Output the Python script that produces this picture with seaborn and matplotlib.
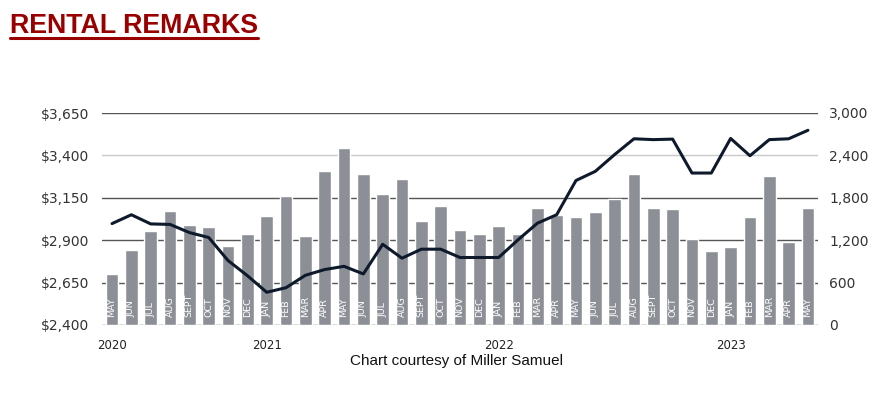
import numpy as np
import pandas as pd
import matplotlib.pyplot as plt
import matplotlib.transforms as mtransforms
from matplotlib.lines import Line2D
import seaborn as sns

sns.set_style("white")
plt.rcParams['font.family'] = ['DejaVu Sans']

# --- data ---
months = ['MAY', 'JUN', 'JUL', 'AUG', 'SEPT', 'OCT', 'NOV', 'DEC',
          'JAN', 'FEB', 'MAR', 'APR', 'MAY', 'JUN', 'JUL', 'AUG', 'SEPT', 'OCT', 'NOV', 'DEC',
          'JAN', 'FEB', 'MAR', 'APR', 'MAY', 'JUN', 'JUL', 'AUG', 'SEPT', 'OCT', 'NOV', 'DEC',
          'JAN', 'FEB', 'MAR', 'APR', 'MAY']
# bars -> right axis
volume = [720, 1065, 1325, 1610, 1410, 1390, 1115, 1285,
          1540, 1830, 1260, 2175, 2505, 2135, 1860, 2065, 1475, 1690, 1350, 1285,
          1405, 1285, 1655, 1560, 1525, 1600, 1790, 2140, 1650, 1635, 1210, 1045,
          1100, 1530, 2105, 1180, 1660]
# line -> left axis
rent = [2998, 3050, 2996, 2993, 2945, 2916, 2780, 2691,
        2593, 2620, 2693, 2727, 2746, 2701, 2876, 2794, 2847, 2847, 2798, 2798,
        2798, 2902, 3000, 3050, 3252, 3306, 3405, 3498, 3493, 3496, 3296, 3296,
        3500, 3398, 3493, 3498, 3548]
year_labels = ['2020', '2021', '2022', '2023']
year_pos = [0, 8, 20, 32]
left_ticks = [2400, 2650, 2900, 3150, 3400, 3650]
right_ticks = [0, 600, 1200, 1800, 2400, 3000]

df = pd.DataFrame({'idx': np.arange(len(months)), 'month': months,
                   'volume': volume, 'rent': rent})

BAR_C = '#8c9096'
LINE_C = '#0e1a2c'
RED = '#990000'

fig = plt.figure(figsize=(8.92, 3.98), dpi=100)
ax_bar = fig.add_axes([102 / 892, 1 - 325 / 398, (818 - 102) / 892, (325 - 113) / 398])

# gridlines (behind the bars)
for v in right_ticks:
    ax_bar.axhline(v, color='#c9c9c9' if v == 2400 else '#555555', lw=1.0, zorder=0)

sns.barplot(data=df, x='idx', y='volume', color=BAR_C, width=0.66,
            saturation=1, ax=ax_bar, zorder=2)
ax_bar.set_ylim(0, 3000)
ax_bar.set_xlim(-0.52, len(months) - 0.48)
ax_bar.set_xticks(np.arange(-0.5, len(months), 1.0))
ax_bar.set_xticklabels([])
ax_bar.tick_params(axis='x', length=4, width=0.8, color='#666666', direction='out')
ax_bar.set_xlabel('')
ax_bar.set_ylabel('')
for s in ax_bar.spines.values():
    s.set_visible(False)

for i, m in enumerate(months):
    ax_bar.text(i, 110, m, rotation=90, ha='center', va='bottom',
                color='white', fontsize=6.8, zorder=3)

# line on the left axis
ax_line = ax_bar.twinx()
sns.lineplot(data=df, x='idx', y='rent', color=LINE_C, lw=2.2, ax=ax_line)
ax_line.set_ylim(2400, 3650)
ax_line.yaxis.tick_left()
ax_line.yaxis.set_label_position('left')
ax_line.set_yticks(left_ticks)
ax_line.set_yticklabels([f'${v:,}' for v in left_ticks])
ax_line.tick_params(axis='y', length=0, pad=9, labelsize=10, labelcolor='#333333')
ax_line.set_xlabel('')
ax_line.set_ylabel('')
for s in ax_line.spines.values():
    s.set_visible(False)

# volume axis on the right (after twinx, which resets it)
ax_bar.yaxis.tick_right()
ax_bar.set_yticks(right_ticks)
ax_bar.set_yticklabels([f'{v:,}' for v in right_ticks])
ax_bar.tick_params(axis='y', length=0, pad=8, labelsize=10, labelcolor='#333333')

# year labels under the x axis
trans = mtransforms.blended_transform_factory(ax_bar.transData, ax_bar.transAxes)
for lab, p in zip(year_labels, year_pos):
    ax_bar.text(p, -0.065, lab, transform=trans, ha='center', va='top',
                fontsize=8.5, color='#222222')

# title with underline
fig.text(10 / 892, 1 - 33 / 398, 'RENTAL REMARKS', fontsize=19.3, fontweight='bold',
         color=RED, family='Liberation Sans', ha='left', va='baseline')
fig.add_artist(Line2D([10 / 892, 258 / 892], [1 - 37.5 / 398] * 2,
                      color=RED, lw=2.2, transform=fig.transFigure))

fig.text(457 / 892, 1 - 361 / 398, 'Chart courtesy of Miller Samuel', fontsize=11,
         family='Liberation Sans', color='#111111', ha='center', va='center')

fig.savefig('out.png', dpi=100)
